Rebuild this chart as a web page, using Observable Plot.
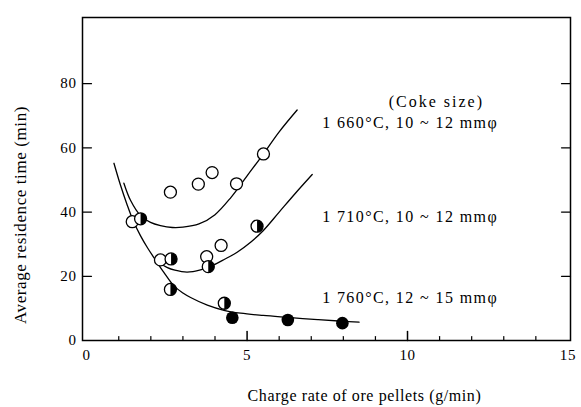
<!DOCTYPE html>
<html><head><meta charset="utf-8">
<script src="https://cdn.jsdelivr.net/npm/d3@7"></script>
<script src="https://cdn.jsdelivr.net/npm/@observablehq/plot@0.6"></script>
<style>
body{margin:0;background:#fff}
svg text{letter-spacing:0.6px}
</style>
</head><body><div id="chart"></div>
<script>
// ---- data ----
const openX = [1.42, 2.30, 2.61, 3.48, 3.74, 3.91, 4.19, 4.67, 5.51];
const openY = [37.0, 25.1, 46.2, 48.7, 26.1, 52.3, 29.6, 48.8, 58.1];
const halfX = [1.68, 2.63, 2.61, 3.79, 4.29, 5.31];
const halfY = [37.9, 25.4, 15.9, 23.0, 11.6, 35.6];
const fullX = [4.54, 6.27, 7.97];
const fullY = [7.1, 6.4, 5.4];

const curve1660X = [1.16, 1.37, 1.68, 1.99, 2.3, 2.67, 3.0, 3.5, 4.0, 4.5, 5.0, 5.5, 6.0, 6.56];
const curve1660Y = [49.0, 43.6, 38.9, 36.8, 35.8, 35.2, 35.3, 36.3, 39.2, 44.6, 51.3, 58.0, 65.0, 71.8];
const curve1710X = [2.25, 2.5, 2.75, 3.13, 3.55, 3.91, 4.3, 4.69, 5.11, 5.5, 6.0, 6.5, 7.03];
const curve1710Y = [24.3, 22.8, 21.9, 21.3, 22.0, 23.3, 25.3, 27.5, 30.6, 34.2, 40.0, 45.8, 51.7];
const curve1760X = [0.85, 1.05, 1.26, 1.45, 1.68, 1.9, 2.09, 2.4, 2.72, 3.0, 3.24, 3.76, 4.28, 4.8, 5.5, 6.27, 7.2, 7.97, 8.49];
const curve1760Y = [55.2, 48.5, 42.3, 37.3, 32.6, 28.8, 25.9, 21.3, 17.0, 14.8, 13.4, 11.0, 9.4, 8.5, 7.8, 7.2, 6.5, 6.0, 5.7];

const xTickLabels = [0, 5, 10, 15];
const xMinorTicks = [1, 2, 3, 4, 6, 7, 8, 9, 11, 12, 13, 14];
const xMajorTicks = [5, 10];
const yTickLabels = [0, 20, 40, 60, 80];
const yTicks = [20, 40, 60, 80];

const labelText = ["1 660°C, 10 ~ 12 mmφ", "1 710°C, 10 ~ 12 mmφ", "1 760°C, 12 ~ 15 mmφ"];
const labelX = [7.34, 7.34, 7.34];
const labelY = [67.9, 38.6, 13.4];
const headerText = ["(Coke size)"];
const headerX = [10.9];
const headerY = [74.4];
const xTitle = "Charge rate of ore pellets (g/min)";
const yTitle = "Average residence time (min)";

// ---- build tables ----
const pts = (xs, ys) => xs.map((x, i) => ({x, y: ys[i]}));
const openPts = pts(openX, openY), halfPts = pts(halfX, halfY), fullPts = pts(fullX, fullY);
const curves = [
  ...pts(curve1660X, curve1660Y).map(d => ({...d, s: "1660"})),
  ...pts(curve1710X, curve1710Y).map(d => ({...d, s: "1710"})),
  ...pts(curve1760X, curve1760Y).map(d => ({...d, s: "1760"}))
];
const labels = labelText.map((t, i) => ({t, x: labelX[i], y: labelY[i]}));
const headers = headerText.map((t, i) => ({t, x: headerX[i], y: headerY[i]}));

const tickShape = {draw(ctx, l) { ctx.moveTo(0, 0); ctx.lineTo(0, -l); }};
const halfSymbol = {draw(ctx, size) {
  const r = Math.sqrt(size / Math.PI);
  ctx.moveTo(0, -r);
  ctx.arc(0, 0, r, -Math.PI / 2, Math.PI / 2);
  ctx.closePath();
}};

const chart = Plot.plot({
  width: 581, height: 407,
  marginTop: 17, marginBottom: 67, marginLeft: 82, marginRight: 11,
  style: {fontFamily: '"Liberation Serif", serif', fontSize: "15px", color: "#000", background: "#fff"},
  x: {domain: [-0.13, 15.08]},
  y: {domain: [0, 100.6]},
  marks: [
    Plot.frame({stroke: "#000", strokeWidth: 1.5}),
    Plot.axisX(xTickLabels, {tickSize: 0, tickPadding: 9, fontSize: 15, label: null}),
    Plot.axisY(yTickLabels, {tickSize: 0, tickPadding: 6, fontSize: 15, label: null}),
    Plot.vector(xMinorTicks, {x: d => d, frameAnchor: "bottom", length: 4, shape: tickShape, anchor: "start", stroke: "#000", strokeWidth: 1.2}),
    Plot.vector(xMajorTicks, {x: d => d, frameAnchor: "bottom", length: 9, shape: tickShape, anchor: "start", stroke: "#000", strokeWidth: 1.5}),
    Plot.vector(yTicks, {y: d => d, frameAnchor: "left", rotate: 90, length: 9, shape: tickShape, anchor: "start", stroke: "#000", strokeWidth: 1.2}),
    Plot.vector(yTicks, {y: d => d, frameAnchor: "right", rotate: -90, length: 9, shape: tickShape, anchor: "start", stroke: "#000", strokeWidth: 1.2}),
    Plot.line(curves, {x: "x", y: "y", z: "s", curve: "catmull-rom", stroke: "#000", strokeWidth: 1.3}),
    Plot.dot(openPts, {x: "x", y: "y", r: 6, fill: "#fff", stroke: "#000", strokeWidth: 1.3}),
    Plot.dot(halfPts, {x: "x", y: "y", r: 6, fill: "#fff", stroke: "#000", strokeWidth: 1.3}),
    Plot.dot(halfPts, {x: "x", y: "y", r: 6, symbol: halfSymbol, fill: "#000"}),
    Plot.dot(fullPts, {x: "x", y: "y", r: 6.3, fill: "#000"}),
    Plot.text(labels, {x: "x", y: "y", text: "t", textAnchor: "start", fontSize: 16}),
    Plot.text(headers, {x: "x", y: "y", text: "t", textAnchor: "middle", fontSize: 16}),
    Plot.text([xTitle], {frameAnchor: "bottom", dy: 55, dx: 38, textAnchor: "middle", lineAnchor: "middle", fontSize: 16}),
    Plot.text([yTitle], {frameAnchor: "left", rotate: -90, dx: -62, dy: 36, textAnchor: "middle", lineAnchor: "middle", fontSize: 17})
  ]
});
// wider letter spacing of the annotation texts, as in the scanned figure
d3.select(chart).selectAll("text")
  .filter(function() { return labelText.includes(this.textContent); })
  .style("letter-spacing", "1.4px");
d3.select(chart).selectAll("text")
  .filter(function() { return headerText.includes(this.textContent); })
  .style("letter-spacing", "2px");
document.getElementById("chart").append(chart);
</script>
</body></html>
